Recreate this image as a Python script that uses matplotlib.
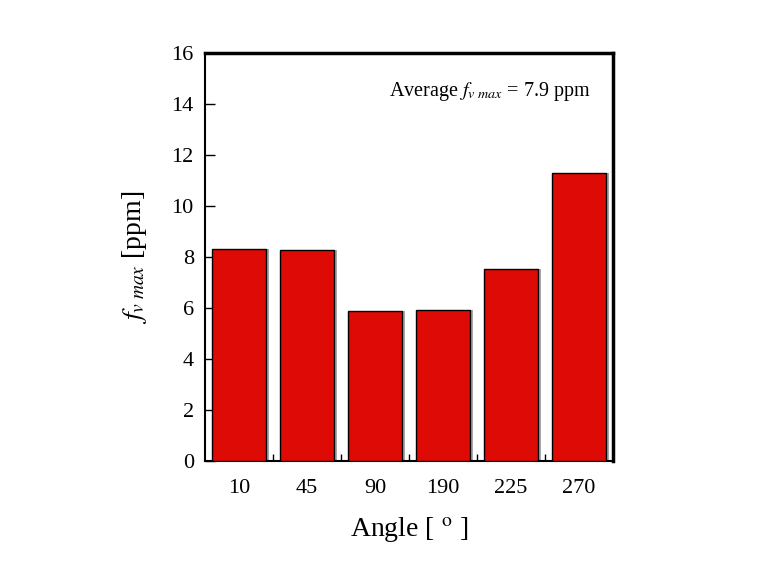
import matplotlib.pyplot as plt
import numpy as np

# data
angles = ["10", "45", "90", "190", "225", "270"]
fv_max = [8.3, 8.26, 5.88, 5.92, 7.55, 11.3]
average_text = "Average $f_{v\\ max}$ = 7.9 ppm"

plt.rcParams["font.family"] = ["Liberation Serif", "DejaVu Serif"]
plt.rcParams["mathtext.fontset"] = "stix"

fig = plt.figure(figsize=(7.59, 5.71), dpi=100)
ax = fig.add_axes([0.270, 0.1926, 0.5375, 0.7145])

x = np.arange(len(angles))
# grey shadow behind each bar
ax.bar(x + 0.04, fv_max, width=0.8, color="#a8a8a8", edgecolor="none", zorder=2)
ax.bar(x, fv_max, width=0.8, color="#dd0a05", edgecolor="black", linewidth=1.0, zorder=3)

ax.set_xlim(-0.5, len(angles) - 0.5)
ax.set_ylim(0, 16)
ax.set_yticks(np.arange(0, 17, 2))
ax.set_xticks(x)
ax.set_xticklabels(angles)
ax.set_xticks(x[:-1] + 0.5, minor=True)

ax.tick_params(axis="x", which="major", length=0, pad=13, labelsize=16)
ax.tick_params(axis="x", which="minor", direction="in", length=5, width=1)
ax.tick_params(axis="y", which="major", direction="in", length=7, width=1, labelsize=16, pad=8)

for side in ["left", "bottom"]:
    ax.spines[side].set_linewidth(1.5)
for side in ["top", "right"]:
    ax.spines[side].set_linewidth(2.5)

ax.set_xlabel("Angle [ $^{\\mathrm{o}}$ ]", fontsize=20, labelpad=12)
ax.set_ylabel("$f_{v\\ max}$ [ppm]", fontsize=20, labelpad=16)

ax.text(0.45, 0.905, average_text, transform=ax.transAxes, fontsize=14.5, ha="left", va="center")

fig.savefig("out.png", dpi=100)
